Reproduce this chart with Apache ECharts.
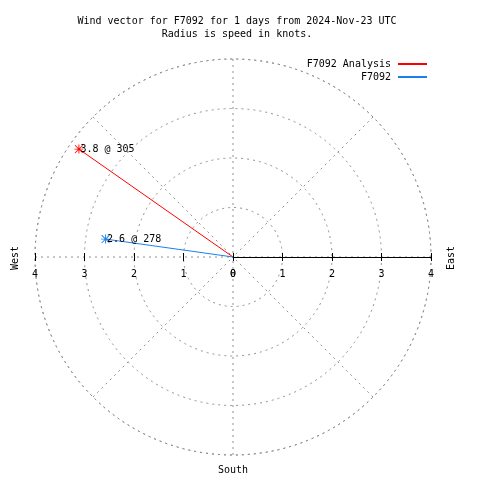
<!DOCTYPE html>
<html><head><meta charset="utf-8">
<script src="https://cdn.jsdelivr.net/npm/echarts@6/dist/echarts.min.js"></script>
<style>html,body{margin:0;padding:0;background:#fff}#c{width:480px;height:480px}</style>
</head><body><div id="c"></div>
<script>
const seriesNames = ['F7092 Analysis', 'F7092'];
const seriesColors = ['#ff0000', '#1a80ec'];
const speeds = [3.8, 2.6];
const directions = [305, 278];
const radiusTicks = [0, 1, 2, 3, 4];
const compassLabels = ['West', 'East', 'South'];
const titleLines = ['Wind vector for F7092 for 1 days from 2024-Nov-23 UTC', 'Radius is speed in knots.'];

const FONT = 'DejaVu Sans Mono';
const FS = 10;
const GRAY = '#909090';
const rMax = radiusTicks[radiusTicks.length - 1];
const star = 'path://M0,4.5L10,4.5L10,5.5L0,5.5Z M4.5,0L5.5,0L5.5,10L4.5,10Z M1,0.3L9.7,9L9,9.7L0.3,1Z M9,0.3L9.7,1L1,9.7L0.3,9Z';

const chart = echarts.init(document.getElementById('c'));

const vecSeries = seriesNames.map((name, i) => ({
  name: name,
  type: 'line',
  coordinateSystem: 'polar',
  data: [[0, directions[i]], [speeds[i], directions[i]]],
  lineStyle: { color: seriesColors[i], width: 1 },
  itemStyle: { color: seriesColors[i] },
  symbol: (v, p) => p.dataIndex === 0 ? 'none' : star,
  symbolSize: 9,
  showSymbol: true,
  animation: false,
  z: 10,
  label: {
    show: true,
    position: 'right',
    distance: -3,
    fontFamily: FONT,
    fontSize: FS,
    color: '#000',
    formatter: p => p.dataIndex === 0 ? '' : speeds[i] + ' @ ' + directions[i]
  }
}));

const tickAxis = (grid, min, max, labels, lineShow, inside) => ({
  type: 'value', gridIndex: grid, min: min, max: max, interval: 1, position: 'bottom',
  axisLine: { show: lineShow, lineStyle: { color: '#000', width: 1 } },
  axisTick: { show: true, inside: inside, length: 4, lineStyle: { color: '#000' } },
  axisLabel: { show: labels, margin: 12, fontFamily: FONT, fontSize: FS, color: '#000', formatter: v => String(Math.abs(v)) },
  splitLine: { show: false }
});

const dash = { color: GRAY, type: [2, 4], width: 1 };

chart.setOption({
  animation: false,
  backgroundColor: '#fff',
  title: {
    text: titleLines.join('\n'),
    left: 232, top: 10, textAlign: 'center',
    textStyle: { fontFamily: FONT, fontSize: FS, fontWeight: 'normal', color: '#000', lineHeight: 13, align: 'center' }
  },
  legend: {
    orient: 'vertical', right: 48, top: 53, align: 'right',
    itemWidth: 29, itemHeight: 2, itemGap: 1, icon: 'rect',
    data: seriesNames,
    textStyle: { fontFamily: FONT, fontSize: FS, color: '#000', lineHeight: 12, padding: [0, 2, 0, 0] }
  },
  polar: { center: [233, 257], radius: 198 },
  angleAxis: {
    type: 'value', min: 0, max: 360, interval: 45, startAngle: 90, clockwise: true,
    axisLine: { show: true, lineStyle: dash },
    axisTick: { show: false }, axisLabel: { show: false },
    splitLine: { show: true, lineStyle: dash }
  },
  radiusAxis: {
    type: 'value', min: radiusTicks[0], max: rMax, interval: 1,
    axisLine: { show: false }, axisTick: { show: false }, axisLabel: { show: false },
    splitLine: { show: true, lineStyle: dash }
  },
  grid: [
    { left: 35, top: 59, width: 198, height: 198 },
    { left: 233, top: 59, width: 198, height: 198 }
  ],
  xAxis: [
    tickAxis(0, -rMax, 0, true, false, false),
    tickAxis(0, -rMax, 0, false, false, true),
    tickAxis(1, 0, rMax, true, true, false),
    tickAxis(1, 0, rMax, false, false, true)
  ],
  yAxis: [
    { type: 'value', gridIndex: 0, min: 0, max: 1, show: false },
    { type: 'value', gridIndex: 1, min: 0, max: 1, show: false }
  ],
  graphic: [
    { type: 'text', x: 15, y: 258, rotation: Math.PI / 2, style: { text: compassLabels[0], fontFamily: FONT, fontSize: FS, fill: '#000', align: 'center', verticalAlign: 'middle' } },
    { type: 'text', x: 451, y: 258, rotation: Math.PI / 2, style: { text: compassLabels[1], fontFamily: FONT, fontSize: FS, fill: '#000', align: 'center', verticalAlign: 'middle' } },
    { type: 'text', x: 233, y: 470, style: { text: compassLabels[2], fontFamily: FONT, fontSize: FS, fill: '#000', align: 'center', verticalAlign: 'middle' } }
  ],
  series: vecSeries
});
</script></body></html>
